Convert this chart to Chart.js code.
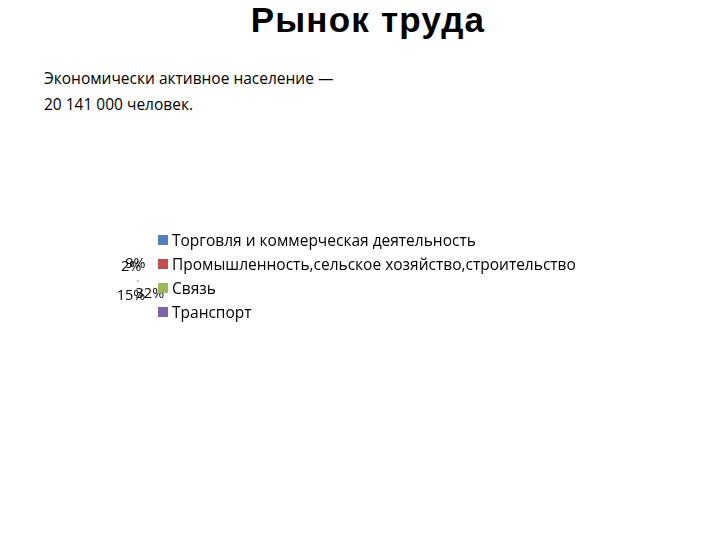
<!DOCTYPE html>
<html lang="ru">
<head>
<meta charset="utf-8">
<script src="https://cdn.jsdelivr.net/npm/chart.js@4/dist/chart.umd.min.js"></script>
<style>
  html, body { margin: 0; padding: 0; background: #fff; }
  body { width: 720px; height: 540px; position: relative; overflow: hidden; font-family: "Open Sans", sans-serif; color: #000; }
  #title { position: absolute; left: 0; width: 736px; top: 0; text-align: center; font-family: "Liberation Sans", Arial, sans-serif; font-size: 35px; line-height: 40px; letter-spacing: 1.2px; font-weight: bold; }
  #note { position: absolute; left: 44px; top: 65px; font-size: 15.5px; line-height: 26px; }
  #pieBox { position: absolute; left: 78px; top: 231px; width: 120px; height: 100px; }
  #legend { position: absolute; left: 158px; top: 228px; list-style: none; margin: 0; padding: 0; font-size: 15.5px; }
  #legend li { height: 24px; line-height: 24px; display: flex; align-items: center; white-space: nowrap; }
  #legend .sw { display: inline-block; width: 10px; height: 10px; margin-right: 4px; }
</style>
</head>
<body>
<div id="title">Рынок труда</div>
<div id="note">Экономически активное население —<br>20 141 000 человек.</div>
<div id="pieBox"><canvas id="pie"></canvas></div>
<ul id="legend"></ul>
<script>
// ===== данные =====
const categories = [
  "Торговля и коммерческая деятельность",
  "Промышленность,сельское хозяйство,строительство",
  "Связь",
  "Транспорт",
];
const values = [32, 15, 2, 9];
const valueLabels = ["32%", "15%", "2%", "9%"];
const sliceColors = ["#4f81bd", "#c0504d", "#9bbb59", "#8064a2"];

// подписи долей вокруг (очень маленького) круга
const sliceLabels = {
  id: "sliceLabels",
  afterDatasetsDraw(chart) {
    const ctx = chart.ctx;
    const meta = chart.getDatasetMeta(0);
    ctx.save();
    ctx.font = '14.5px "Open Sans", sans-serif';
    ctx.fillStyle = "#000";
    ctx.textAlign = "center";
    ctx.textBaseline = "middle";
    meta.data.forEach((arc, i) => {
      const mid = (arc.startAngle + arc.endAngle) / 2;
      const dx = Math.cos(mid);
      const dy = Math.sin(mid);
      const x = arc.x + 10 * dx + 2;
      const y = arc.y + 8 * dy + (dy > 0 ? 12 : -10);
      ctx.fillText(valueLabels[i], x, y);
    });
    ctx.restore();
  },
};

// легенда в HTML (как в примере Chart.js "HTML legend")
const htmlLegend = {
  id: "htmlLegend",
  afterUpdate(chart) {
    const ul = document.getElementById("legend");
    ul.innerHTML = "";
    const items = chart.options.plugins.legend.labels.generateLabels(chart);
    items.forEach((item) => {
      const li = document.createElement("li");
      const sw = document.createElement("span");
      sw.className = "sw";
      sw.style.background = item.fillStyle;
      li.appendChild(sw);
      li.appendChild(document.createTextNode(item.text));
      ul.appendChild(li);
    });
  },
};

document.addEventListener("DOMContentLoaded", () => {
  const ctx = document.getElementById("pie").getContext("2d");
  new Chart(ctx, {
    type: "pie",
    data: {
      labels: categories,
      datasets: [
        {
          data: values,
          backgroundColor: sliceColors,
          borderColor: "#d9d9d9",
          borderWidth: 0.5,
        },
      ],
    },
    options: {
      responsive: true,
      maintainAspectRatio: false,
      animation: false,
      radius: 1,
      plugins: {
        tooltip: { enabled: false },
        legend: { display: false },
      },
    },
    plugins: [sliceLabels, htmlLegend],
  });
});
</script>
</body>
</html>
